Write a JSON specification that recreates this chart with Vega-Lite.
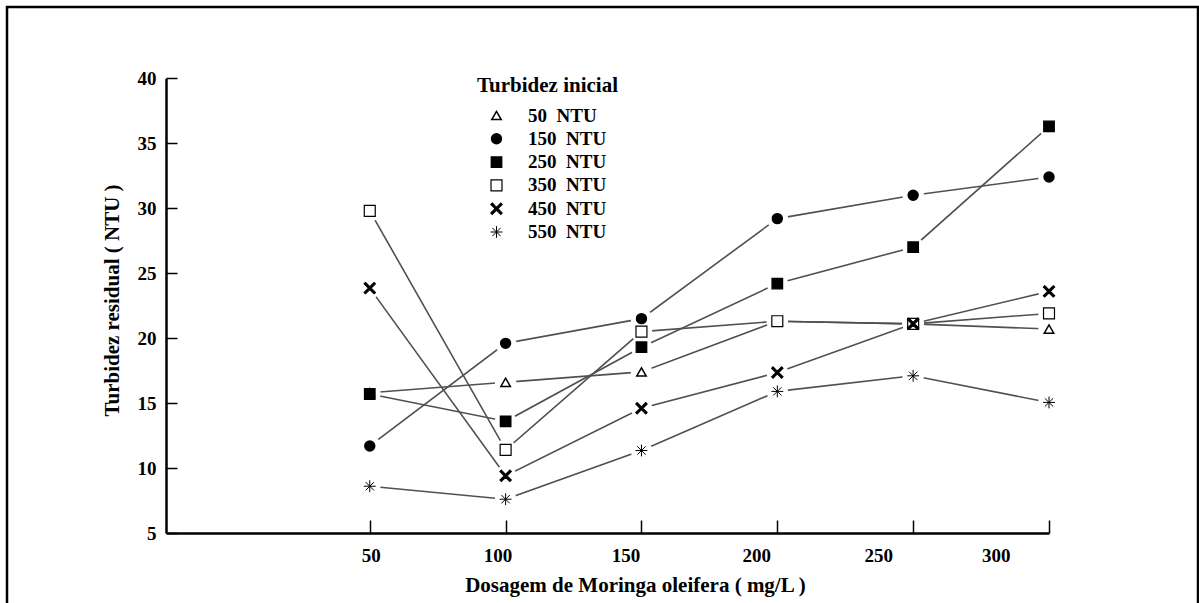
{
  "$schema": "https://vega.github.io/schema/vega-lite/v6.json",
  "width": 1191,
  "height": 600,
  "autosize": {"type": "none"},
  "padding": {"left": 7, "top": 7, "right": 1, "bottom": 0},
  "background": "white",
  "config": {
    "view": {"stroke": "black", "strokeWidth": 2.5},
    "font": "Liberation Serif"
  },
  "data": {
    "values": [
      {"dosagem": 50, "turbidez_inicial": "50 NTU", "turbidez_residual": 15.8},
      {"dosagem": 100, "turbidez_inicial": "50 NTU", "turbidez_residual": 16.6},
      {"dosagem": 150, "turbidez_inicial": "50 NTU", "turbidez_residual": 17.4},
      {"dosagem": 200, "turbidez_inicial": "50 NTU", "turbidez_residual": 21.3},
      {"dosagem": 250, "turbidez_inicial": "50 NTU", "turbidez_residual": 21.1},
      {"dosagem": 300, "turbidez_inicial": "50 NTU", "turbidez_residual": 20.7},
      {"dosagem": 50, "turbidez_inicial": "150 NTU", "turbidez_residual": 11.7},
      {"dosagem": 100, "turbidez_inicial": "150 NTU", "turbidez_residual": 19.6},
      {"dosagem": 150, "turbidez_inicial": "150 NTU", "turbidez_residual": 21.5},
      {"dosagem": 200, "turbidez_inicial": "150 NTU", "turbidez_residual": 29.2},
      {"dosagem": 250, "turbidez_inicial": "150 NTU", "turbidez_residual": 31.0},
      {"dosagem": 300, "turbidez_inicial": "150 NTU", "turbidez_residual": 32.4},
      {"dosagem": 50, "turbidez_inicial": "250 NTU", "turbidez_residual": 15.7},
      {"dosagem": 100, "turbidez_inicial": "250 NTU", "turbidez_residual": 13.6},
      {"dosagem": 150, "turbidez_inicial": "250 NTU", "turbidez_residual": 19.3},
      {"dosagem": 200, "turbidez_inicial": "250 NTU", "turbidez_residual": 24.2},
      {"dosagem": 250, "turbidez_inicial": "250 NTU", "turbidez_residual": 27.0},
      {"dosagem": 300, "turbidez_inicial": "250 NTU", "turbidez_residual": 36.3},
      {"dosagem": 50, "turbidez_inicial": "350 NTU", "turbidez_residual": 29.8},
      {"dosagem": 100, "turbidez_inicial": "350 NTU", "turbidez_residual": 11.4},
      {"dosagem": 150, "turbidez_inicial": "350 NTU", "turbidez_residual": 20.5},
      {"dosagem": 200, "turbidez_inicial": "350 NTU", "turbidez_residual": 21.3},
      {"dosagem": 250, "turbidez_inicial": "350 NTU", "turbidez_residual": 21.1},
      {"dosagem": 300, "turbidez_inicial": "350 NTU", "turbidez_residual": 21.9},
      {"dosagem": 50, "turbidez_inicial": "450 NTU", "turbidez_residual": 23.85},
      {"dosagem": 100, "turbidez_inicial": "450 NTU", "turbidez_residual": 9.4},
      {"dosagem": 150, "turbidez_inicial": "450 NTU", "turbidez_residual": 14.6},
      {"dosagem": 200, "turbidez_inicial": "450 NTU", "turbidez_residual": 17.35},
      {"dosagem": 250, "turbidez_inicial": "450 NTU", "turbidez_residual": 21.1},
      {"dosagem": 300, "turbidez_inicial": "450 NTU", "turbidez_residual": 23.6},
      {"dosagem": 50, "turbidez_inicial": "550 NTU", "turbidez_residual": 8.6},
      {"dosagem": 100, "turbidez_inicial": "550 NTU", "turbidez_residual": 7.6},
      {"dosagem": 150, "turbidez_inicial": "550 NTU", "turbidez_residual": 11.35},
      {"dosagem": 200, "turbidez_inicial": "550 NTU", "turbidez_residual": 15.9},
      {"dosagem": 250, "turbidez_inicial": "550 NTU", "turbidez_residual": 17.1},
      {"dosagem": 300, "turbidez_inicial": "550 NTU", "turbidez_residual": 15.05}
    ]
  },
  "encoding": {
    "x": {
      "field": "dosagem",
      "type": "quantitative",
      "scale": {"domain": [-25, 300], "range": [159, 1042], "nice": false, "zero": false},
      "axis": {
        "title": "Dosagem de Moringa oleifera  ( mg/L )",
        "values": [50, 100, 150, 200, 250, 300],
        "offset": -74,
        "grid": false,
        "domainColor": "black",
        "domainWidth": 2.5,
        "tickColor": "black",
        "tickWidth": 1.5,
        "tickSize": -13,
        "labelFont": "Liberation Serif",
        "labelFontWeight": "bold",
        "labelFontSize": 19,
        "labelColor": "black",
        "labelPadding": 26,
        "labelOffset": {
          "condition": [
            {"test": "datum.value == 100", "value": -8},
            {"test": "datum.value == 150", "value": -16},
            {"test": "datum.value == 200", "value": -21},
            {"test": "datum.value == 250", "value": -35},
            {"test": "datum.value == 300", "value": -39}
          ],
          "value": 1
        },
        "titleFont": "Liberation Serif",
        "titleFontWeight": "bold",
        "titleFontSize": 21,
        "titleColor": "black",
        "titleX": 628,
        "titleY": 58,
        "titleAlign": "center",
        "titleBaseline": "alphabetic"
      }
    },
    "y": {
      "field": "turbidez_residual",
      "type": "quantitative",
      "scale": {"domain": [5, 40], "range": [526, 71.3], "nice": false, "zero": false},
      "axis": {
        "title": "Turbidez residual ( NTU )",
        "values": [5, 10, 15, 20, 25, 30, 35, 40],
        "offset": -159,
        "grid": false,
        "domainColor": "black",
        "domainWidth": 2.5,
        "tickColor": "black",
        "tickWidth": 1.5,
        "tickSize": -11,
        "labelFont": "Liberation Serif",
        "labelFontWeight": "bold",
        "labelFontSize": 19,
        "labelColor": "black",
        "labelPadding": 21,
        "titleFont": "Liberation Serif",
        "titleFontWeight": "bold",
        "titleFontSize": 21,
        "titleColor": "black",
        "titleX": -54,
        "titleY": 293,
        "titleAngle": -90,
        "titleAlign": "center",
        "titleBaseline": "middle"
      }
    }
  },
  "layer": [
    {
      "mark": {"type": "line", "color": "#505050", "strokeWidth": 1.6},
      "encoding": {
        "detail": {"field": "turbidez_inicial", "type": "nominal"},
        "order": {"field": "dosagem", "type": "quantitative"}
      }
    },
    {
      "mark": {"type": "circle", "color": "white", "opacity": 1, "size": 460},
      "encoding": {}
    },
    {
      "mark": {"type": "point", "opacity": 1, "stroke": "black", "strokeOpacity": 1, "fillOpacity": 1},
      "encoding": {
        "shape": {
          "field": "turbidez_inicial",
          "type": "nominal",
          "scale": {
            "domain": ["50 NTU", "150 NTU", "250 NTU", "350 NTU", "450 NTU", "550 NTU"],
            "range": ["triangle-up", "circle", "square", "square", "M-0.75,-1L0,-0.25L0.75,-1L1,-0.75L0.25,0L1,0.75L0.75,1L0,0.25L-0.75,1L-1,0.75L-0.25,0L-1,-0.75Z", "M-1,0L1,0M0,-1L0,1M-0.7,-0.7L0.7,0.7M-0.7,0.7L0.7,-0.7"]
          },
          "legend": {
            "title": "Turbidez inicial",
            "orient": "none",
            "legendX": 470,
            "legendY": 68,
            "padding": 0,
            "titleFont": "Liberation Serif",
            "titleFontSize": 21,
            "titleFontWeight": "bold",
            "titleColor": "black",
            "titlePadding": 10,
            "labelFont": "Liberation Serif",
            "labelFontSize": 19,
            "labelFontWeight": "bold",
            "labelColor": "black",
            "labelExpr": "(length(datum.label) == 6 ? '\u2007' : '') + replace(datum.label, ' ', '\u2002')",
            "symbolOffset": 10,
            "labelOffset": 22,
            "rowPadding": 3.3,
            "symbolStrokeColor": "black"
          }
        },
        "fill": {
          "field": "turbidez_inicial",
          "type": "nominal",
          "scale": {
            "domain": ["50 NTU", "150 NTU", "250 NTU", "350 NTU", "450 NTU", "550 NTU"],
            "range": ["white", "black", "black", "white", "black", "black"]
          }
        },
        "size": {
          "field": "turbidez_inicial",
          "type": "nominal",
          "scale": {
            "domain": ["50 NTU", "150 NTU", "250 NTU", "350 NTU", "450 NTU", "550 NTU"],
            "range": [90, 140, 75, 120, 130, 120]
          }
        },
        "strokeWidth": {
          "field": "turbidez_inicial",
          "type": "nominal",
          "scale": {
            "domain": ["50 NTU", "150 NTU", "250 NTU", "350 NTU", "450 NTU", "550 NTU"],
            "range": [1.5, 1, 1, 1.5, 1, 1.5]
          }
        }
      }
    }
  ]
}
